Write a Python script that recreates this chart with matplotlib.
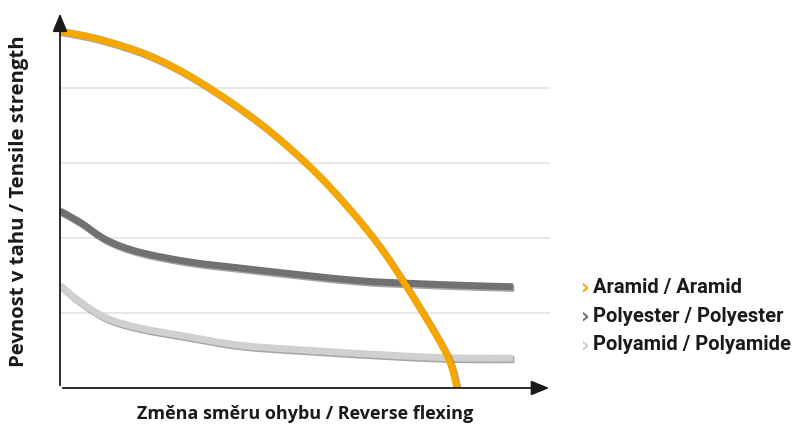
import numpy as np
import matplotlib.pyplot as plt
import matplotlib.patheffects as pe
from matplotlib.path import Path
from matplotlib.patches import PathPatch

# values (x: arbitrary flexing units, y: grid units)
aramid_x = [0, 40, 90, 140, 200, 250, 290, 325, 363, 388, 397]
aramid_y = [4.76, 4.65, 4.43, 4.08, 3.53, 2.95, 2.38, 1.79, 1.00, 0.41, 0.0]

polyester_x = [0, 20, 47, 80, 130, 180, 240, 300, 343, 400, 453]
polyester_y = [2.36, 2.21, 1.97, 1.81, 1.68, 1.60, 1.51, 1.43, 1.40, 1.37, 1.35]

polyamid_x = [0, 20, 47, 80, 130, 180, 240, 340, 400, 453]
polyamid_y = [1.37, 1.15, 0.93, 0.80, 0.68, 0.57, 0.51, 0.43, 0.40, 0.40]

labels = ['Aramid / Aramid', 'Polyester / Polyester', 'Polyamid / Polyamide']
colors = ['#F5A700', '#717171', '#D0D0D0']
grid_y = [1, 2, 3, 4]


def smooth_path(xs, ys):
    # catmull-rom through the points, as cubic bezier segments
    p = np.column_stack([xs, ys]).astype(float)
    verts = [p[0]]
    codes = [Path.MOVETO]
    for i in range(len(p) - 1):
        p0 = p[i - 1] if i > 0 else p[i]
        p3 = p[i + 2] if i + 2 < len(p) else p[i + 1]
        c1 = p[i] + (p[i + 1] - p0) / 6
        c2 = p[i + 1] - (p3 - p[i]) / 6
        verts += [c1, c2, p[i + 1]]
        codes += [Path.CURVE4] * 3
    return Path(verts, codes)


fig = plt.figure(figsize=(8.12, 4.28), dpi=100)
ax = fig.add_axes([60/812, 40/428, 490/812, 375/428])
ax.set_xlim(0, 490)
ax.set_ylim(0, 5.0)
ax.axis('off')

for g in grid_y:
    ax.plot([0, 490], [g, g], color='#E3E3E3', lw=1.2, zorder=1)

shadow = [pe.SimpleLineShadow(offset=(1, -1.2), alpha=0.35, shadow_color='k'), pe.Normal()]
series = [(aramid_x, aramid_y), (polyester_x, polyester_y), (polyamid_x, polyamid_y)]
zs = [5, 4, 3]
for (xs, ys), c, z in zip(series, colors, zs):
    patch = PathPatch(smooth_path(xs, ys), facecolor='none', edgecolor=c, lw=5,
                      capstyle='butt', joinstyle='round', path_effects=shadow, zorder=z)
    ax.add_patch(patch)

# axes with arrows
ax.annotate('', xy=(492, 0), xytext=(0, 0),
            arrowprops=dict(arrowstyle='-|>,head_length=1.1,head_width=0.45', color='#1a1a1a', lw=1.3),
            annotation_clip=False, zorder=6)
ax.annotate('', xy=(0, 5.03), xytext=(0, 0),
            arrowprops=dict(arrowstyle='-|>,head_length=1.1,head_width=0.45', color='#1a1a1a', lw=1.3),
            annotation_clip=False, zorder=6)

fig.text(19/812, 1 - 201/428, 'Pevnost v tahu / Tensile strength', rotation=90,
         ha='center', va='center', fontsize=14.6, fontweight='bold', family='Open Sans', color='#1a1a1a')
fig.text(305/812, 1 - 414/428, 'Změna směru ohybu / Reverse flexing',
         ha='center', va='center', fontsize=13, fontweight='bold', family='Open Sans', color='#1a1a1a')

for i, (lab, c) in enumerate(zip(labels, colors)):
    yy = 1 - (287 + i * 29) / 428
    fig.text(581/812, yy, '›', ha='left', va='center', fontsize=15, fontweight='bold',
             color=c, family='DejaVu Sans')
    fig.text(593/812, yy, lab, ha='left', va='center', fontsize=14.5, fontweight='bold',
             color='#1a1a1a', family='Roboto')

fig.savefig('out.png', dpi=100)
